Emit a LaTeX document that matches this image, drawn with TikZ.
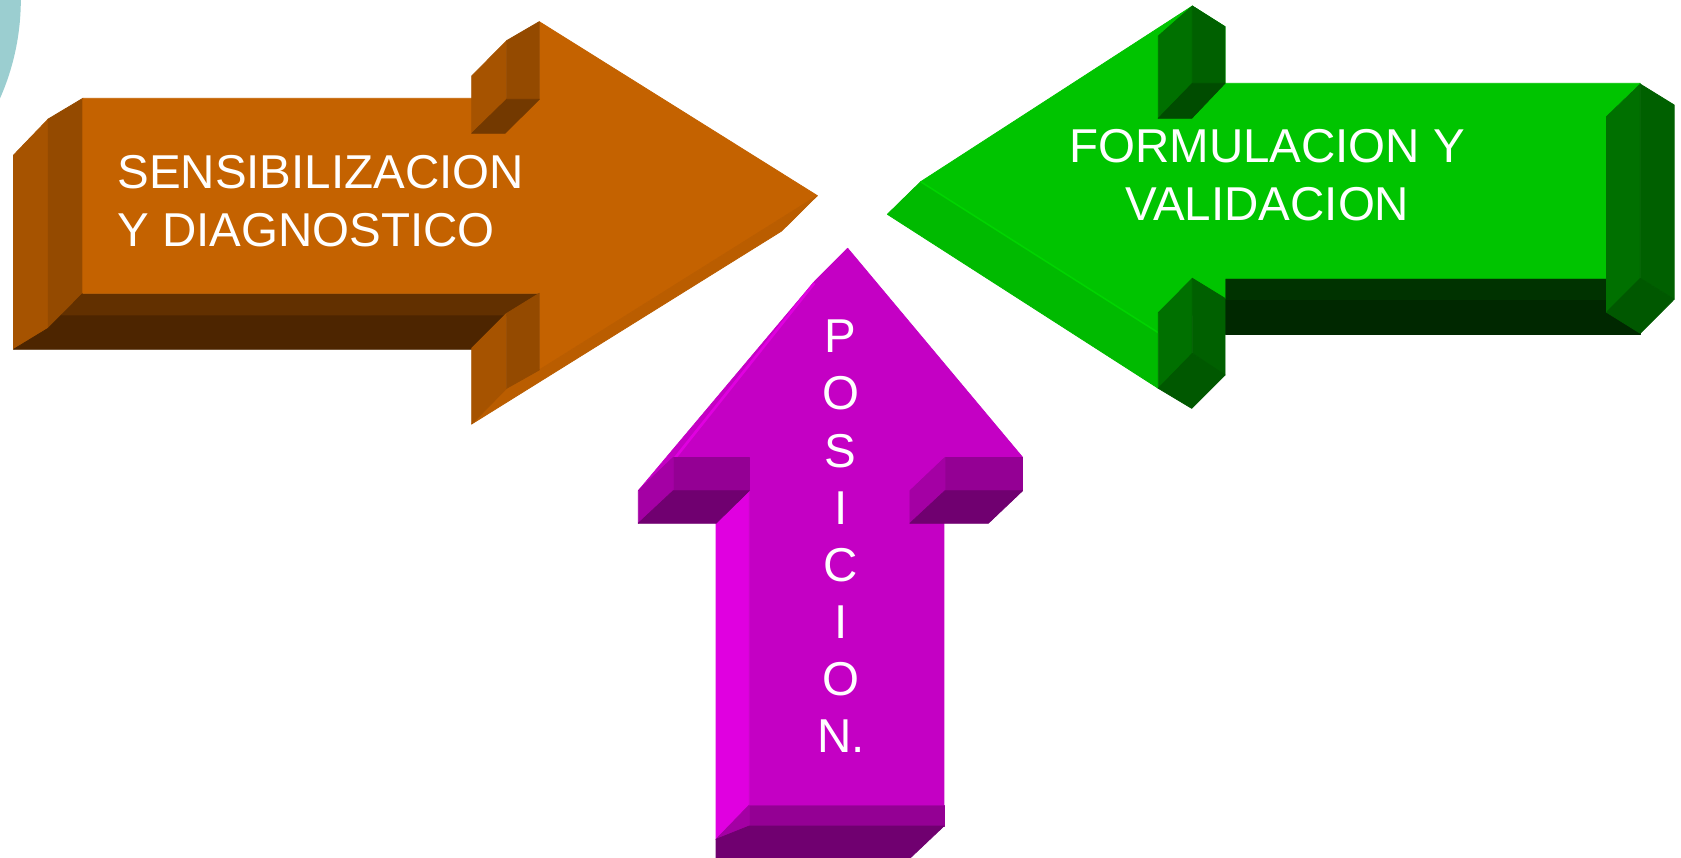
\documentclass[tikz,border=0pt]{standalone}
\usepackage{fontspec}
\setmainfont{Liberation Sans}
\usepackage{tikz}

\definecolor{circ}{RGB}{155,206,208}
\definecolor{orfront}{RGB}{196,98,0}
\definecolor{orside}{RGB}{166,83,0}
\definecolor{ordark}{RGB}{148,74,0}
\definecolor{orshade}{RGB}{115,57,0}
\definecolor{orbottom}{RGB}{98,48,0}
\definecolor{orbase}{RGB}{77,37,0}
\definecolor{orbevel}{RGB}{186,93,0}
\definecolor{grfront}{RGB}{0,196,0}
\definecolor{grside}{RGB}{0,112,0}
\definecolor{grdark}{RGB}{0,96,0}
\definecolor{grshade}{RGB}{0,76,0}
\definecolor{grlow}{RGB}{0,88,0}
\definecolor{grbottom}{RGB}{0,51,0}
\definecolor{grbase}{RGB}{0,40,0}
\definecolor{grbevel}{RGB}{0,186,0}
\definecolor{grline}{RGB}{0,212,0}
\definecolor{mgfront}{RGB}{196,0,196}
\definecolor{mglight}{RGB}{224,0,224}
\definecolor{mgside}{RGB}{164,0,164}
\definecolor{mgback}{RGB}{148,0,148}
\definecolor{mgshade}{RGB}{112,0,112}

\begin{document}
\begin{tikzpicture}[x=0.01cm,y=-0.01cm,line join=round,
                    face/.style={fill=#1,draw=#1,line width=0.2pt}]
  \tikzstyle{arrowtext}=[text=white,inner sep=0pt,
                         font=\fontsize{12.6}{15.15}\selectfont]

  \useasboundingbox (0,0) rectangle (1568,800);
  \clip (0,0) rectangle (1568,800);

  \fill[circ] (-209.3,-0.6) circle (2.286cm);

  % orange arrow
  \path[face=orside] (12.7,144.6) -- (45,111) -- (45,306.2) -- (12.7,325.8) -- cycle;
  \path[face=ordark] (45,111) -- (77.3,91.7) -- (77.3,273.6) -- (45,306.2) -- cycle;
  \path[face=orbase] (12.7,325.8) -- (45,306.2) -- (57.3,293.8) -- (473,293.8) -- (440,325.8) -- cycle;
  \path[face=orbottom] (57.3,293.8) -- (77.3,273.6) -- (503,273.6) -- (473,293.8) -- cycle;
  \path[face=orfront] (77.3,91.7) -- (503,91.7) -- (503,20.2) -- (762.4,182.5)
        -- (503,345.1) -- (503,273.6) -- (77.3,273.6) -- cycle;
  \path[face=orbevel] (762.4,182.5) -- (729.1,215.5) -- (440,395.5) -- (472.6,362.2)
        -- (503,345.1) -- cycle;
  \path[face=orside] (440,70.9) -- (472.6,37.9) -- (472.6,92.6) -- (440,124.4) -- cycle;
  \path[face=ordark] (472.6,37.9) -- (503,20.2) -- (503,92.6) -- (472.6,92.6) -- cycle;
  \path[face=orshade] (440,124.4) -- (472.6,92.6) -- (503,92.6) -- (471.1,124.4) -- cycle;
  \path[face=orside] (440,324.9) -- (472.6,292.3) -- (472.6,362.2) -- (440,395.5) -- cycle;
  \path[face=ordark] (472.6,292.3) -- (503,273.6) -- (503,345.1) -- (472.6,362.2) -- cycle;

  % green arrow
  \path[face=grbottom] (1142.7,259.6) -- (1530,259.6) -- (1530,279.8) -- (1142.7,279.8) -- cycle;
  \path[face=grbase] (1142.7,279.8) -- (1530,279.8) -- (1530,311.9) -- (1142.7,311.9) -- cycle;
  \path[face=grfront] (858.8,169.5) -- (1112.2,5.6) -- (1142.7,24.9) -- (1142.7,77.7)
        -- (1530,77.7) -- (1498.5,108.8) -- (1498.5,259.6) -- (1142.7,259.6)
        -- (1142.7,278.3) -- (1080.4,310.3) -- cycle;
  \path[face=grbevel] (827.7,199.9) -- (858.8,169.5) -- (1080.4,310.3) -- (1080.4,362.2) -- cycle;
  \draw[grline,line width=0.4pt] (858.8,169.5) -- (1080.4,310.3);
  \path[face=grside] (1080.4,33.6) -- (1112.2,5.6) -- (1112.2,77.7) -- (1080.4,110.4) -- cycle;
  \path[face=grdark] (1112.2,5.6) -- (1142.7,24.9) -- (1142.7,77.7) -- (1112.2,77.7) -- cycle;
  \path[face=grshade] (1080.4,110.4) -- (1112.2,77.7) -- (1142.7,77.7) -- (1111.6,110.4) -- cycle;
  \path[face=grside] (1080.4,291.7) -- (1112.2,259.6) -- (1112.2,329.6) -- (1080.4,362.2) -- cycle;
  \path[face=grdark] (1112.2,259.6) -- (1142.7,278.3) -- (1142.7,349.8) -- (1112.2,329.6) -- cycle;
  \path[face=grlow] (1080.4,362.2) -- (1112.2,329.6) -- (1142.7,349.8) -- (1111.6,380.9) -- cycle;
  \path[face=grside] (1498.5,108.8) -- (1530,78.4) -- (1530,259.6) -- (1498.5,291.3) -- cycle;
  \path[face=grdark] (1530,78.4) -- (1561.6,97.9) -- (1561.6,279.2) -- (1530,259.6) -- cycle;
  \path[face=grlow] (1498.5,291.3) -- (1530,259.6) -- (1561.6,279.2) -- (1530,310.9) -- cycle;

  % magenta arrow
  \path[face=mglight] (667.9,488.1) -- (698.9,457.7) -- (698.9,750.9) -- (667.9,782.9) -- cycle;
  \path[face=mgback] (698.9,750.9) -- (880.5,750.9) -- (880.5,770.5) -- (698.9,770.5) -- cycle;
  \path[face=mgside] (667.9,782.9) -- (698.9,750.9) -- (698.9,770.5) -- cycle;
  \path[face=mgshade] (667.9,782.9) -- (698.9,770.5) -- (880.5,770.5) -- (848.8,800.5)
        -- (667.9,800.5) -- cycle;
  \path[face=mgfront] (698.9,750.9) -- (880.5,750.9) -- (880.5,426.6) -- (953.9,426.6)
        -- (790.7,231.6) -- (628,426.6) -- (698.9,426.6) -- cycle;
  \path[face=mgfront] (790.7,231.6) -- (759.6,262.7) -- (595.4,457.7) -- (628,426.6) -- cycle;
  \draw[mglight,line width=0.7pt] (759.6,264) -- (629,428);
  \path[face=mgback] (628,426.6) -- (698.9,426.6) -- (698.9,457.7) -- (628,457.7) -- cycle;
  \path[face=mgside] (595.4,457.7) -- (628,426.6) -- (628,457.7) -- (595.4,488.1) -- cycle;
  \path[face=mgshade] (595.4,488.1) -- (628,457.7) -- (698.9,457.7) -- (667.9,488.1) -- cycle;
  \path[face=mgback] (881.5,426.6) -- (953.9,426.6) -- (953.9,457.7) -- (881.5,457.7) -- cycle;
  \path[face=mgside] (848.8,457.7) -- (881.5,426.6) -- (881.5,457.7) -- (848.8,488.1) -- cycle;
  \path[face=mgshade] (848.8,488.1) -- (881.5,457.7) -- (953.9,457.7) -- (921.9,488.1) -- cycle;

  \node[arrowtext,anchor=north west,align=left] (sens) at (108.8,144.6)
        {SENSIBILIZACION\\Y DIAGNOSTICO};
  \node[arrowtext,anchor=north,align=center] (form) at (1182,120.3)
        {FORMULACION Y\\VALIDACION};
  \node[arrowtext,anchor=north,align=center] (pos) at (784.3,297.9)
        {P\\O\\S\\I\\C\\I\\O\\N.};

\end{tikzpicture}
\end{document}
